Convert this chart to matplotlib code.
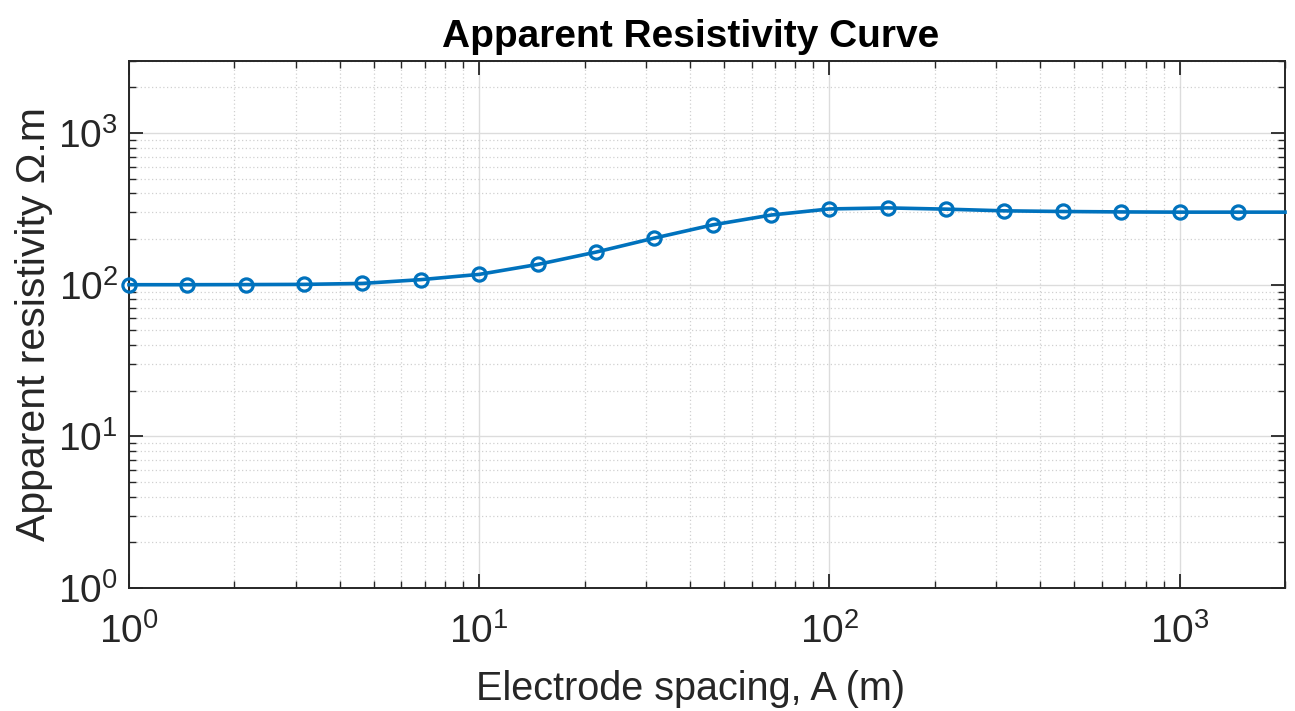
import matplotlib
matplotlib.use("Agg")
import matplotlib.pyplot as plt
from matplotlib.ticker import LogLocator, NullFormatter

# Data
spacing = [1.0, 1.468, 2.154, 3.162, 4.642, 6.813, 10.0, 14.68, 21.54, 31.62,
           46.42, 68.13, 100.0, 146.8, 215.4, 316.2, 464.2, 681.3, 1000.0, 1468.0, 2000.0]
rho_a = [100.0, 100.0, 100.2, 100.5, 102.0, 108.0, 117.0, 136.0, 164.0, 203.0,
         248.0, 288.0, 316.0, 321.0, 315.0, 307.0, 304.0, 302.0, 301.0, 301.0, 301.0]
marker_idx = list(range(20))  # no marker on the final line point

title = "Apparent Resistivity Curve"
xlabel = "Electrode spacing, A (m)"
ylabel = "Apparent resistivity \u03a9.m"

plt.rcParams['font.family'] = ['Liberation Sans', 'DejaVu Sans']
plt.rcParams['mathtext.fontset'] = 'custom'
plt.rcParams['mathtext.rm'] = 'Liberation Sans'

fig = plt.figure(figsize=(12.95, 7.11), dpi=100)
ax = fig.add_axes([0.0996, 0.173, 0.8927, 0.7416])

blue = '#0072BD'
ax.plot(spacing, rho_a, color=blue, lw=2.6, marker='o', markersize=9.5,
        markerfacecolor='none', markeredgewidth=2.3, markevery=marker_idx,
        clip_on=False, zorder=3)

ax.set_xscale('log')
ax.set_yscale('log')
ax.set_xlim(1, 2000)
ax.set_ylim(1, 3000)

ax.xaxis.set_major_locator(LogLocator(base=10, numticks=10))
ax.yaxis.set_major_locator(LogLocator(base=10, numticks=10))
ax.xaxis.set_minor_locator(LogLocator(base=10, subs=range(2, 10), numticks=20))
ax.yaxis.set_minor_locator(LogLocator(base=10, subs=range(2, 10), numticks=20))
ax.xaxis.set_minor_formatter(NullFormatter())
ax.yaxis.set_minor_formatter(NullFormatter())

ax.grid(which='major', color='#dcdcdc', lw=1.0, ls='-')
ax.grid(which='minor', color='#d0d0d0', lw=0.9, ls=(0, (1, 2)))
ax.set_axisbelow(True)

for s in ax.spines.values():
    s.set_color('#262626')
    s.set_linewidth(1.4)

ax.tick_params(which='both', direction='in', top=True, right=True, colors='#262626')
ax.tick_params(which='major', length=10, width=1.3, labelsize=28)
ax.tick_params(which='minor', length=5, width=1.0)
ax.tick_params(axis='x', which='major', pad=18)
ax.tick_params(axis='y', which='major', pad=8)

ax.set_title(title, fontsize=28, fontweight='bold', pad=10, x=0.486)
ax.set_xlabel(xlabel, fontsize=28.5, color='#262626', labelpad=14, x=0.486)
ax.set_ylabel(ylabel, fontsize=29.5, color='#262626', labelpad=4)

fig.savefig('out.png', dpi=100, facecolor='white')
